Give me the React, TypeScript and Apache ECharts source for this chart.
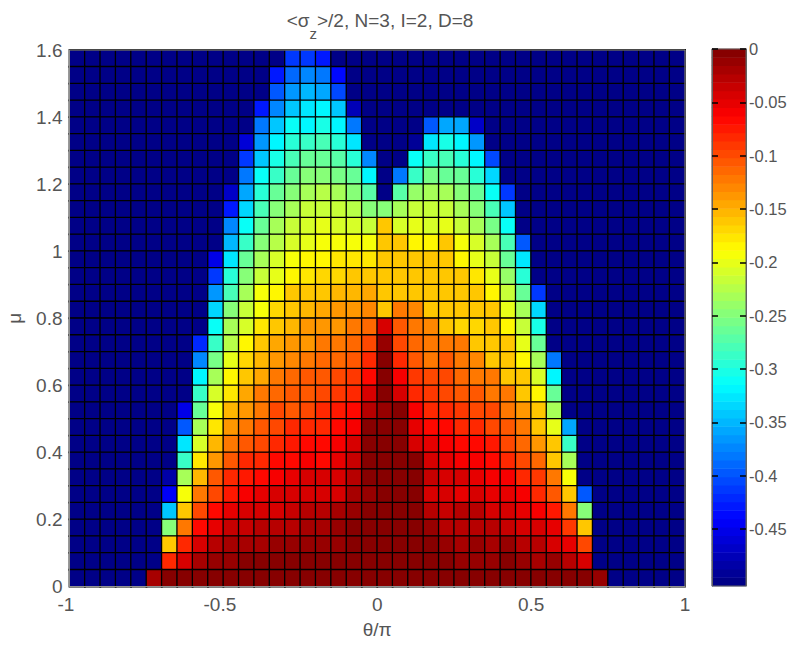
import React, { useEffect, useRef } from "react";
import * as echarts from "echarts";

const _ = -0.5;
const barMin = -0.5035;
const levels = 64;
const colCount = 40;
const muTicksMax = 1.6;
const barTicks = [0, -0.05, -0.1, -0.15, -0.2, -0.25, -0.3, -0.35, -0.4, -0.45];

// First coloured column of every row, top row (mu = 1.55..1.6) first
const firstColoured = [14, 13, 13, 12, 12, 11, 11, 11, 10, 10, 10, 10, 9, 9, 9, 9, 9, 8, 8, 8, 8, 7, 7, 7, 7, 6, 6, 6, 6, 6, 6, 5];
// Values of each row from that column on; everything else is the background value
const rowValues = [
  [-.415, -.41, -.43],
  [-.43, -.39, -.375, -.38, -.44],
  [-.40, -.365, -.35, -.355, -.405],
  [-.43, -.37, -.345, -.325, -.32, -.345, -.475],
  [-.385, -.345, -.31, -.315, -.305, -.32, -.385, _, _, _, _, -.40, -.355, -.36, -.47],
  [-.46, -.365, -.32, -.295, -.285, -.28, -.295, -.33, _, _, _, -.49, -.33, -.305, -.315, -.365],
  [-.415, -.34, -.305, -.28, -.265, -.265, -.275, -.295, -.37, _, _, -.31, -.285, -.28, -.295, -.315, -.405],
  [-.385, -.31, -.285, -.26, -.25, -.25, -.255, -.265, -.315, _, -.38, -.29, -.255, -.26, -.265, -.295, -.335],
  [-.47, -.355, -.295, -.265, -.245, -.235, -.225, -.235, -.25, -.275, _, -.275, -.24, -.23, -.23, -.25, -.265, -.31, -.41],
  [-.425, -.335, -.28, -.25, -.23, -.22, -.215, -.22, -.225, -.245, -.245, -.23, -.215, -.215, -.215, -.23, -.25, -.28, -.345],
  [-.375, -.31, -.265, -.235, -.215, -.205, -.2, -.205, -.21, -.215, -.16, -.21, -.2, -.205, -.2, -.215, -.23, -.255, -.31],
  [-.35, -.29, -.245, -.225, -.21, -.2, -.195, -.195, -.195, -.195, -.16, -.16, -.185, -.185, -.165, -.195, -.21, -.23, -.28, -.395],
  [-.455, -.325, -.265, -.23, -.21, -.195, -.185, -.185, -.175, -.175, -.175, -.165, -.165, -.16, -.16, -.165, -.1875, -.2, -.215, -.26, -.33],
  [-.41, -.295, -.245, -.215, -.2, -.185, -.175, -.17, -.17, -.165, -.165, -.165, -.165, -.165, -.165, -.165, -.16, -.18, -.2, -.24, -.295],
  [-.365, -.28, -.23, -.195, -.1875, -.165, -.16, -.165, -.15, -.15, -.145, -.165, -.165, -.165, -.165, -.165, -.16, -.165, -.1875, -.215, -.26, -.41],
  [-.335, -.25, -.215, -.195, -.17, -.16, -.15, -.145, -.14, -.135, -.13, -.165, -.12, -.13, -.165, -.165, -.165, -.165, -.16, -.2, -.235, -.335],
  [-.31, -.235, -.205, -.18, -.165, -.15, -.14, -.14, -.135, -.125, -.115, -.045, -.11, -.125, -.13, -.165, -.17, -.17, -.165, -.1875, -.215, -.30],
  [-.42, -.285, -.225, -.185, -.16, -.145, -.14, -.135, -.125, -.125, -.115, -.10, -.008, -.10, -.115, -.125, -.125, -.125, -.165, -.165, -.16, -.2, -.26],
  [-.37, -.255, -.2, -.17, -.155, -.14, -.13, -.12, -.115, -.115, -.105, -.085, -.003, -.08, -.11, -.12, -.11, -.125, -.13, -.165, -.16, -.1875, -.23, -.38],
  [-.32, -.23, -.1875, -.16, -.145, -.125, -.115, -.11, -.105, -.10, -.09, -.07, 0, -.06, -.09, -.10, -.10, -.115, -.12, -.125, -.165, -.16, -.205, -.315],
  [-.29, -.21, -.175, -.145, -.125, -.115, -.11, -.105, -.10, -.09, -.08, -.045, 0, -.04, -.08, -.09, -.095, -.105, -.105, -.12, -.125, -.165, -.1875, -.265],
  [-.45, -.265, -.195, -.155, -.135, -.12, -.10, -.105, -.095, -.085, -.075, -.07, -.03, -.008, 0, -.06, -.08, -.085, -.09, -.095, -.10, -.12, -.135, -.165, -.23],
  [-.40, -.23, -.175, -.14, -.12, -.11, -.095, -.085, -.085, -.08, -.07, -.06, -.005, -.003, -.003, -.05, -.07, -.07, -.08, -.085, -.095, -.105, -.125, -.165, -.2, -.36],
  [-.325, -.205, -.15, -.125, -.105, -.095, -.085, -.075, -.07, -.07, -.06, -.045, -.005, -.003, -.003, -.04, -.05, -.06, -.07, -.07, -.075, -.095, -.115, -.135, -.165, -.29],
  [-.285, -.18, -.135, -.11, -.085, -.08, -.07, -.07, -.06, -.065, -.05, -.035, -.003, -.003, -.003, -.001, -.04, -.05, -.06, -.06, -.07, -.08, -.095, -.115, -.165, -.23],
  [-.48, -.23, -.15, -.11, -.085, -.075, -.07, -.06, -.05, -.045, -.045, -.04, -.03, -.005, -.003, -.003, -.003, -.035, -.045, -.045, -.05, -.06, -.06, -.08, -.09, -.125, -.195],
  [-.445, -.195, -.125, -.095, -.075, -.06, -.05, -.045, -.04, -.04, -.04, -.04, -.02, -.01, -.003, -.003, -.003, -.04, -.04, -.05, -.045, -.05, -.05, -.06, -.08, -.105, -.165, -.395],
  [-.345, -.16, -.10, -.07, -.05, -.045, -.04, -.04, -.035, -.03, -.025, -.02, -.01, -.005, -.003, -.003, -.005, -.025, -.035, -.03, -.03, -.04, -.04, -.05, -.06, -.075, -.12, -.245],
  [-.245, -.12, -.07, -.05, -.035, -.035, -.03, -.03, -.025, -.02, -.02, -.015, -.005, -.005, -.003, -.003, -.005, -.008, -.025, -.025, -.025, -.03, -.035, -.04, -.045, -.05, -.09, -.165],
  [-.165, -.085, -.04, -.03, -.02, -.02, -.02, -.015, -.012, -.012, -.012, -.008, -.003, -.005, -.003, -.003, -.005, -.004, -.01, -.017, -.015, -.017, -.015, -.025, -.03, -.04, -.05, -.10],
  [-.08, -.04, -.02, -.012, -.008, -.005, -.005, -.005, -.003, -.005, -.005, -.003, 0, -.003, -.003, -.003, -.005, -.004, -.001, -.008, -.008, -.01, -.005, -.008, -.017, -.015, -.025, -.045],
  [-.02, -.002, -.002, -.002, -.002, -.002, -.002, -.002, -.002, -.002, -.002, -.002, -.002, -.002, -.002, -.002, -.002, -.002, -.002, -.002, -.002, -.002, -.002, -.002, -.002, -.002, -.002, -.002, -.002, -.008],
];

const clamp = (v: number) => Math.max(0, Math.min(1, v));
function jet(i: number) {
  const t = (i + 0.5) / levels;
  const c = (k: number) => Math.round(255 * clamp(1.5 - Math.abs(4 * t - k)));
  return `rgb(${c(3)},${c(2)},${c(1)})`;
}

const textColor = "#555555";
const fontFamily = "'Liberation Sans', Arial, sans-serif";
const labelSize = 19;
const barLabelSize = 16.5;

export default function App() {
  const ref = useRef<HTMLDivElement>(null);
  useEffect(() => {
    const chart = echarts.init(ref.current!, undefined, { renderer: "svg" });
    const rowCount = rowValues.length;
    const cells: number[][] = [];
    rowValues.forEach((vals, r) => {
      const y = rowCount - 1 - r;
      for (let x = 0; x < colCount; x++) {
        const k = x - firstColoured[r];
        cells.push([x, y, k >= 0 && k < vals.length ? vals[k] : _]);
      }
    });
    const step = -barMin / levels;
    const barCells = Array.from({ length: levels }, (_u, i) => [0, i, barMin + (i + 0.5) * step]);
    const pieces = Array.from({ length: levels }, (_u, i) => ({
      gte: i === 0 ? -1 : barMin + i * step,
      lt: i === levels - 1 ? 1 : barMin + (i + 1) * step,
      color: jet(i),
    }));
    const axisText = { color: textColor, fontSize: labelSize, fontFamily, fontWeight: "normal" };
    const option = {
      animation: false,
      backgroundColor: "#ffffff",
      title: {
        text: "{a|<σ}{b|z}{a|>/2, N=3, I=2, D=8}",
        left: 375,
        top: 6,
        textAlign: "center",
        textStyle: {
          fontWeight: "normal",
          rich: {
            a: { fontSize: 19, fontWeight: "normal", color: textColor, fontFamily, padding: [0, 0, 11, 0], verticalAlign: "bottom" },
            b: { fontSize: 15, fontWeight: "normal", color: textColor, fontFamily, verticalAlign: "bottom" },
          },
        },
      },
      grid: [
        { left: 69.5, top: 50, width: 615.5, height: 536.5, outerBoundsMode: "none", show: true, borderColor: "#909090", borderWidth: 1, backgroundColor: "transparent", z: 5 },
        { left: 712, top: 49, width: 34, height: 537, outerBoundsMode: "none", show: true, borderColor: "#606060", borderWidth: 1, backgroundColor: "transparent", z: 5 },
      ],
      xAxis: [
        { type: "category", gridIndex: 0, show: false, data: Array.from({ length: colCount }, (_u, i) => String(i)) },
        {
          type: "value", gridIndex: 0, position: "bottom", min: -1, max: 1, interval: 0.5, z: 10,
          name: "θ/π", nameLocation: "middle", nameGap: 33, nameTextStyle: axisText,
          axisLine: { show: true, lineStyle: { color: "#909090" } },
          axisTick: { show: false },
          axisLabel: {
            ...axisText,
            margin: 8,
            formatter: (v: number) => (v < 0 ? `{n|${v}}` : String(v)),
            rich: { n: { ...axisText, padding: [0, 7, 0, 0] } },
          },
          splitLine: { show: false },
        },
        { type: "category", gridIndex: 1, show: false, data: ["0"] },
      ],
      yAxis: [
        { type: "category", gridIndex: 0, show: false, data: Array.from({ length: rowCount }, (_u, i) => String(i)) },
        {
          type: "value", gridIndex: 0, position: "left", min: 0, max: muTicksMax, interval: 0.2, z: 10,
          name: "μ", nameLocation: "middle", nameGap: 46, nameTextStyle: axisText,
          axisLine: { show: true, lineStyle: { color: "#909090" } },
          axisTick: { show: false },
          axisLabel: { ...axisText, margin: 7, padding: [5, 0, 0, 0] },
          splitLine: { show: false },
        },
        { type: "category", gridIndex: 1, show: false, data: Array.from({ length: levels }, (_u, i) => String(i)) },
        {
          type: "value", gridIndex: 1, position: "right", min: barMin, max: 0, z: 10,
          axisLine: { show: true, lineStyle: { color: "#606060" } },
          axisTick: { show: true, inside: true, length: 6, lineStyle: { color: "#000000", width: 1.5 }, customValues: barTicks },
          axisLabel: { ...axisText, fontSize: barLabelSize, margin: 3, padding: [4, 0, 0, 0], customValues: barTicks, formatter: (v: number) => String(+v.toFixed(2)) },
          splitLine: { show: false },
        },
        {
          type: "value", gridIndex: 1, position: "left", min: barMin, max: 0, z: 10,
          axisLine: { show: true, lineStyle: { color: "#606060" } },
          axisTick: { show: true, inside: true, length: 6, lineStyle: { color: "#000000", width: 1.5 }, customValues: barTicks },
          axisLabel: { show: false },
          splitLine: { show: false },
        },
      ],
      visualMap: { type: "piecewise", show: false, dimension: 2, seriesIndex: [0, 1], pieces },
      series: [
        {
          type: "heatmap", xAxisIndex: 0, yAxisIndex: 0, data: cells,
          itemStyle: { borderColor: "#000000", borderWidth: 1.3 },
          emphasis: { disabled: true }, progressive: 0,
        },
        {
          type: "heatmap", xAxisIndex: 2, yAxisIndex: 2, data: barCells,
          itemStyle: { borderWidth: 0 },
          emphasis: { disabled: true }, progressive: 0,
        },
      ],
    };
    chart.setOption(option as any);
    return () => chart.dispose();
  }, []);
  return <div ref={ref} style={{ position: "absolute", left: 0, top: 0, width: 791, height: 646 }} />;
}
